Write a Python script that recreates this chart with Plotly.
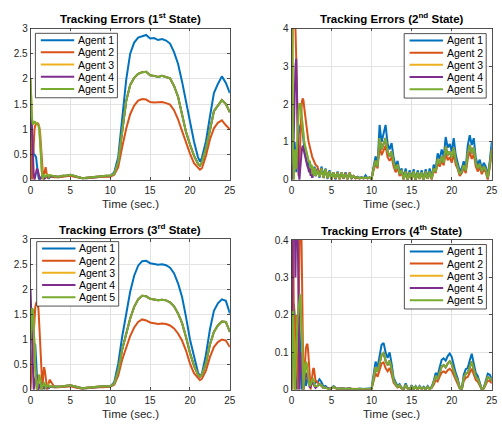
import plotly.graph_objects as go

W, H = 502, 426
FONT = "Liberation Sans, Arial, Helvetica, sans-serif"
COLORS = ["#0072BD", "#D95319", "#EDB120", "#7E2F8E", "#77AC30"]
AGENTS = ["Agent 1", "Agent 2", "Agent 3", "Agent 4", "Agent 5"]
TITLES = ["Tracking Errors (1<sup>st</sup> State)", "Tracking Errors (2<sup>nd</sup> State)",
          "Tracking Errors (3<sup>rd</sup> State)", "Tracking Errors (4<sup>th</sup> State)"]
X_LABEL = "Time (sec.)"
X_TICKS = [0, 5, 10, 15, 20, 25]
Y_TICKS_A = [0, 0.5, 1, 1.5, 2, 2.5, 3]
Y_TICKS_B = [0, 1, 2, 3, 4]
Y_TICKS_C = [0, 0.1, 0.2, 0.3, 0.4]

# ---------------- time grids ----------------
T_EARLY_A = [0.0, 0.1, 0.2, 0.3, 0.4, 0.5, 0.6, 0.7, 0.8, 0.9,
             1.0, 1.1, 1.2, 1.3, 1.4, 1.5, 1.6, 1.7, 1.8, 1.9,
             2.0, 2.1, 2.2, 2.3, 2.4, 2.5]
T_LATE_A = [3.0, 3.5, 4.0, 4.5, 5.0, 5.5, 6.0, 6.5, 7.0, 7.5,
            8.0, 8.5, 9.0, 9.5, 10.0, 10.5, 11.0, 11.5, 12.0, 12.5,
            13.0, 13.5, 14.0, 14.5, 15.0, 15.5, 16.0, 16.5, 17.0, 17.5,
            18.0, 18.5, 19.0, 19.5, 20.0, 20.5, 21.0, 21.25, 21.5, 22.0, 22.5, 23.0, 23.5, 24.0, 24.5, 25.0]
T_EARLY_B = [0.0, 0.1, 0.2, 0.3, 0.4, 0.5, 0.6, 0.7, 0.8, 0.9,
             1.0, 1.1, 1.2, 1.3, 1.4, 1.5, 1.6, 1.7, 1.8, 1.9,
             2.0, 2.1, 2.2, 2.3, 2.4, 2.5, 2.6, 2.7, 2.8, 2.9, 3.0]
T_LATE_B = [3.25, 3.5, 3.75, 4.0, 4.25, 4.5, 4.75, 5.0,
            5.25, 5.5, 5.75, 6.0, 6.25, 6.5, 6.75, 7.0,
            7.25, 7.5, 7.75, 8.0, 8.25, 8.5, 8.75, 9.0,
            9.25, 9.5, 9.75, 10.0, 10.25, 10.5, 10.75, 11.0,
            11.25, 11.5, 11.75, 12.0, 12.25, 12.5, 12.75, 13.0,
            13.25, 13.5, 13.75, 14.0, 14.25, 14.5, 14.75, 15.0,
            15.25, 15.5, 15.75, 16.0, 16.25, 16.5, 16.75, 17.0,
            17.25, 17.5, 17.75, 18.0, 18.25, 18.5, 18.75, 19.0,
            19.25, 19.5, 19.75, 20.0, 20.25, 20.5, 20.75, 21.0,
            21.25, 21.5, 21.75, 22.0, 22.25, 22.5, 22.75, 23.0,
            23.25, 23.5, 23.75, 24.0, 24.25, 24.5, 24.75, 25.0]

# ---------------- 1st state ----------------
P1_A1_EARLY = [0.8, 1.2, 0.9, 0.55, 0.5, 0.5, 0.48, 0.45, 0.3, 0.15,
               0.05, 0.0, 0.02, 0.04, 0.06, 0.05, 0.03, 0.02, 0.03, 0.05,
               0.07, 0.06, 0.04, 0.03, 0.05, 0.06]
P1_A2_EARLY = [1.0, 0.4, 0.0, 0.35, 0.75, 1.0, 1.08, 1.1, 1.12, 1.12,
               1.1, 1.05, 0.95, 0.7, 0.4, 0.15, 0.0, 0.1, 0.22, 0.25,
               0.15, 0.03, 0.02, 0.07, 0.1, 0.07]
P1_A3_EARLY = [2.0, 1.5, 1.18, 1.1, 1.12, 1.14, 1.14, 1.12, 1.12, 1.1,
               1.08, 1.0, 0.8, 0.5, 0.2, 0.02, 0.05, 0.1, 0.08, 0.05,
               0.08, 0.1, 0.09, 0.06, 0.08, 0.09]
P1_A4_EARLY = [1.0, 1.25, 1.0, 0.5, 0.1, 0.0, 0.1, 0.2, 0.22, 0.2,
               0.12, 0.05, 0.0, 0.03, 0.06, 0.08, 0.06, 0.04, 0.03, 0.05,
               0.07, 0.08, 0.06, 0.05, 0.06, 0.07]
P1_A5_EARLY = [2.0, 1.55, 1.2, 1.1, 1.12, 1.15, 1.14, 1.12, 1.12, 1.1,
               1.08, 1.0, 0.8, 0.5, 0.2, 0.02, 0.05, 0.1, 0.08, 0.05,
               0.08, 0.1, 0.09, 0.06, 0.08, 0.09]
P1_A1_LATE = [0.06, 0.05, 0.07, 0.08, 0.09, 0.07, 0.05, 0.03, 0.03, 0.04,
              0.05, 0.06, 0.07, 0.07, 0.07, 0.15, 0.45, 1.25, 1.98, 2.5,
              2.72, 2.82, 2.84, 2.87, 2.8, 2.81, 2.77, 2.79, 2.76, 2.7,
              2.53, 2.3, 1.95, 1.55, 1.15, 0.76, 0.45, 0.36, 0.44, 0.76, 1.25, 1.72, 1.9, 2.05, 1.92, 1.72]
P1_A2_LATE = [0.05, 0.05, 0.06, 0.07, 0.08, 0.06, 0.04, 0.03, 0.03, 0.04,
              0.05, 0.05, 0.06, 0.06, 0.06, 0.1, 0.25, 0.65, 1.01, 1.3,
              1.47, 1.57, 1.6, 1.59, 1.54, 1.53, 1.53, 1.54, 1.52, 1.49,
              1.38, 1.2, 0.97, 0.73, 0.52, 0.33, 0.23, 0.2, 0.23, 0.47, 0.8, 1.02, 1.13, 1.18, 1.08, 1.0]
P1_A345_LATE = [0.07, 0.06, 0.08, 0.08, 0.1, 0.08, 0.05, 0.03, 0.04, 0.05,
                0.06, 0.07, 0.08, 0.08, 0.08, 0.12, 0.35, 0.95, 1.56, 1.88,
                2.02, 2.1, 2.13, 2.14, 2.07, 2.06, 2.04, 2.06, 2.04, 2.01,
                1.86, 1.65, 1.3, 0.95, 0.7, 0.48, 0.32, 0.28, 0.35, 0.62, 0.98, 1.36, 1.47, 1.58, 1.5, 1.34]

# ---------------- 2nd state ----------------
P2_A1_EARLY = [2.5, 1.0, 0.2, 0.5, 1.0, 0.6, 0.2, 0.6, 1.0, 1.2,
               1.35, 1.45, 1.5, 1.45, 1.2, 1.0, 0.85, 0.7, 0.6, 0.5,
               0.4, 0.45, 0.25, 0.4, 0.15, 0.3, 0.05, 0.3, 0.1, 0.35, 0.1]
P2_A2_EARLY = [1.5, 3.5, 4.5, 4.3, 4.1, 4.0, 3.2, 2.0, 0.8, 0.1,
               0.5, 1.2, 1.8, 2.05, 2.15, 2.1, 1.9, 1.7, 1.5, 1.35,
               1.2, 1.05, 0.95, 0.85, 0.8, 0.7, 0.6, 0.55, 0.5, 0.45, 0.4]
P2_A3_EARLY = [4.5, 4.0, 0.8, 0.0, 0.5, 0.8, 0.3, 0.9, 1.5, 1.85,
               2.0, 2.0, 1.85, 1.6, 1.35, 1.15, 1.0, 0.9, 0.8, 0.7,
               0.6, 0.55, 0.45, 0.5, 0.3, 0.4, 0.15, 0.35, 0.1, 0.3, 0.1]
P2_A4_EARLY = [0.4, 0.0, 0.4, 1.5, 2.5, 3.0, 3.2, 2.5, 1.2, 0.2,
               0.0, 0.3, 0.6, 0.8, 0.9, 0.8, 0.7, 0.6, 0.5, 0.4,
               0.35, 0.3, 0.2, 0.3, 0.1, 0.25, 0.05, 0.2, 0.1, 0.25, 0.1]
P2_A5_EARLY = [4.5, 4.2, 0.8, 0.0, 0.6, 0.8, 0.3, 0.9, 1.5, 1.85,
               2.0, 2.0, 1.85, 1.6, 1.35, 1.15, 1.0, 0.9, 0.8, 0.7,
               0.6, 0.55, 0.45, 0.5, 0.3, 0.4, 0.15, 0.35, 0.1, 0.3, 0.1]
P2_A1_LATE = [0.3, 0.05, 0.35, 0.1, 0.3, 0.02, 0.25, 0.05,
              0.2, 0.0, 0.22, 0.05, 0.18, 0.02, 0.2, 0.05,
              0.15, 0.03, 0.1, 0.05, 0.08, 0.05, 0.07, 0.04,
              0.12, 0.04, 0.07, 0.02, 0.35, 0.62, 0.4, 1.45,
              1.0, 1.2, 1.45, 0.95, 0.8, 0.97, 0.58, 0.35,
              0.5, 0.2, 0.3, 0.05, 0.3, 0.02, 0.25, 0.05,
              0.28, 0.0, 0.25, 0.05, 0.25, 0.02, 0.28, 0.05,
              0.3, 0.05, 0.4, 0.3, 0.7, 0.55, 0.8, 0.6,
              1.13, 0.85, 0.95, 0.75, 1.1, 0.66, 0.45, 0.23,
              0.3, 0.49, 0.32, 0.9, 1.18, 0.92, 1.1, 0.58,
              0.4, 0.53, 0.3, 0.45, 0.35, 0.1, 0.5, 1.0]
P2_A2_LATE = [0.35, 0.15, 0.3, 0.05, 0.25, 0.08, 0.2, 0.0,
              0.18, 0.03, 0.2, 0.0, 0.15, 0.03, 0.18, 0.0,
              0.2, 0.03, 0.1, 0.03, 0.06, 0.03, 0.05, 0.03,
              0.05, 0.03, 0.05, 0.02, 0.25, 0.42, 0.3, 0.9,
              0.65, 0.8, 0.9, 0.6, 0.5, 0.6, 0.35, 0.2,
              0.32, 0.1, 0.2, 0.0, 0.18, 0.0, 0.16, 0.0,
              0.18, 0.0, 0.16, 0.02, 0.16, 0.0, 0.18, 0.02,
              0.18, 0.0, 0.25, 0.18, 0.45, 0.35, 0.5, 0.38,
              0.7, 0.52, 0.6, 0.45, 0.68, 0.4, 0.28, 0.1,
              0.17, 0.3, 0.18, 0.55, 0.75, 0.55, 0.68, 0.35,
              0.22, 0.33, 0.15, 0.27, 0.2, 0.0, 0.3, 0.65]
P2_A345_LATE = [0.25, 0.08, 0.3, 0.05, 0.28, 0.05, 0.22, 0.02,
                0.2, 0.05, 0.18, 0.02, 0.2, 0.05, 0.15, 0.02,
                0.18, 0.05, 0.1, 0.05, 0.07, 0.04, 0.06, 0.04,
                0.06, 0.04, 0.06, 0.03, 0.3, 0.5, 0.35, 1.1,
                0.8, 0.95, 1.1, 0.75, 0.62, 0.75, 0.45, 0.28,
                0.4, 0.15, 0.25, 0.02, 0.22, 0.0, 0.2, 0.02,
                0.22, 0.0, 0.2, 0.03, 0.2, 0.0, 0.22, 0.03,
                0.22, 0.03, 0.3, 0.22, 0.55, 0.42, 0.62, 0.45,
                0.88, 0.65, 0.75, 0.58, 0.85, 0.5, 0.35, 0.15,
                0.22, 0.38, 0.24, 0.7, 0.92, 0.7, 0.85, 0.45,
                0.3, 0.42, 0.22, 0.35, 0.27, 0.05, 0.4, 0.8]

# ---------------- 3rd state ----------------
P3_A1_EARLY = [0.2, 0.5, 0.7, 0.85, 0.9, 0.92, 0.9, 0.5, 0.1, 0.0,
               0.05, 0.1, 0.08, 0.03, 0.0, 0.03, 0.05, 0.04, 0.02, 0.03,
               0.05, 0.06, 0.04, 0.03, 0.05, 0.06]
P3_A2_EARLY = [0.0, 0.3, 0.6, 0.9, 1.2, 1.45, 1.65, 1.72, 1.75, 1.72,
               1.6, 1.3, 0.9, 0.45, 0.1, 0.0, 0.3, 0.45, 0.38, 0.2,
               0.05, 0.0, 0.08, 0.15, 0.2, 0.18]
P3_A3_EARLY = [1.0, 1.38, 1.6, 1.58, 1.3, 0.9, 0.4, 0.05, 0.0, 0.1,
               0.25, 0.3, 0.22, 0.08, 0.0, 0.05, 0.12, 0.15, 0.1, 0.04,
               0.05, 0.09, 0.1, 0.07, 0.06, 0.07]
P3_A4_EARLY = [2.0, 1.4, 0.7, 0.2, 0.0, 0.1, 0.25, 0.3, 0.25, 0.1,
               0.0, 0.05, 0.12, 0.15, 0.1, 0.04, 0.02, 0.05, 0.08, 0.06,
               0.04, 0.05, 0.07, 0.06, 0.05, 0.06]
P3_A5_EARLY = [1.0, 1.4, 1.62, 1.6, 1.3, 0.9, 0.4, 0.05, 0.0, 0.1,
               0.25, 0.3, 0.22, 0.08, 0.0, 0.05, 0.12, 0.15, 0.1, 0.04,
               0.05, 0.09, 0.1, 0.07, 0.06, 0.07]
P3_A1_LATE = [0.05, 0.05, 0.06, 0.07, 0.08, 0.06, 0.04, 0.02, 0.03, 0.04,
              0.05, 0.05, 0.06, 0.06, 0.06, 0.15, 0.52, 1.06, 1.5, 1.95,
              2.27, 2.47, 2.56, 2.57, 2.52, 2.51, 2.49, 2.5, 2.48, 2.43,
              2.32, 2.12, 1.85, 1.45, 1.0, 0.67, 0.35, 0.27, 0.32, 0.7, 1.2, 1.57, 1.72, 1.8, 1.77, 1.52]
P3_A2_LATE = [0.05, 0.05, 0.06, 0.06, 0.07, 0.05, 0.04, 0.02, 0.03, 0.04,
              0.05, 0.05, 0.05, 0.06, 0.06, 0.1, 0.28, 0.6, 0.85, 1.07,
              1.24, 1.35, 1.4, 1.38, 1.34, 1.32, 1.31, 1.32, 1.31, 1.28,
              1.22, 1.12, 0.98, 0.78, 0.52, 0.33, 0.22, 0.19, 0.22, 0.38, 0.65, 0.85, 0.95, 1.0, 0.98, 0.85]
P3_A345_LATE = [0.06, 0.06, 0.07, 0.08, 0.09, 0.07, 0.05, 0.03, 0.04, 0.05,
                0.06, 0.06, 0.07, 0.07, 0.07, 0.12, 0.38, 0.8, 1.1, 1.42,
                1.65, 1.8, 1.87, 1.86, 1.81, 1.79, 1.78, 1.79, 1.78, 1.74,
                1.66, 1.52, 1.33, 1.05, 0.73, 0.48, 0.3, 0.26, 0.3, 0.52, 0.9, 1.15, 1.28, 1.36, 1.35, 1.15]

# ---------------- 4th state ----------------
P4_A1_EARLY = [0.0, 0.15, 0.22, 0.23, 0.2, 0.1, 0.0, 0.05, 0.15, 0.2,
               0.18, 0.12, 0.06, 0.0, 0.03, 0.06, 0.05, 0.03, 0.01, 0.02,
               0.03, 0.04, 0.035, 0.02, 0.01, 0.015, 0.02, 0.025, 0.02, 0.015, 0.02]
P4_A2_EARLY = [0.3, 0.5, 0.45, 0.2, 0.0, 0.1, 0.2, 0.15, 0.0, 0.2,
               0.45, 0.55, 0.5, 0.3, 0.1, 0.0, 0.04, 0.08, 0.11, 0.12,
               0.123, 0.1, 0.06, 0.02, 0.0, 0.02, 0.045, 0.055, 0.058, 0.045, 0.025]
P4_A3_EARLY = [0.0, 0.19, 0.2, 0.1, 0.0, 0.05, 0.12, 0.18, 0.2, 0.22,
               0.245, 0.25, 0.2, 0.12, 0.04, 0.0, 0.03, 0.06, 0.075, 0.07,
               0.05, 0.03, 0.015, 0.01, 0.015, 0.025, 0.03, 0.03, 0.02, 0.01, 0.01]
P4_A4_EARLY = [0.0, 0.3, 0.5, 0.6, 0.5, 0.3, 0.5, 0.6, 0.4, 0.1,
               0.0, 0.05, 0.1, 0.08, 0.03, 0.0, 0.02, 0.04, 0.045, 0.04,
               0.03, 0.02, 0.01, 0.005, 0.01, 0.02, 0.02, 0.015, 0.01, 0.005, 0.005]
P4_A5_EARLY = [0.0, 0.2, 0.21, 0.1, 0.0, 0.05, 0.12, 0.18, 0.2, 0.22,
               0.25, 0.255, 0.2, 0.12, 0.04, 0.0, 0.03, 0.06, 0.075, 0.07,
               0.05, 0.03, 0.015, 0.01, 0.015, 0.025, 0.03, 0.03, 0.02, 0.01, 0.01]
P4_A1_LATE = [0.02, 0.028, 0.02, 0.008, 0.01, 0.005, 0.003, 0.005,
              0.01, 0.006, 0.003, 0.004, 0.005, 0.004, 0.003, 0.004,
              0.004, 0.003, 0.002, 0.003, 0.002, 0.003, 0.002, 0.002,
              0.003, 0.003, 0.003, 0.004, 0.04, 0.075, 0.06, 0.09,
              0.12, 0.125, 0.1, 0.085, 0.1, 0.07, 0.032, 0.02,
              0.01, 0.015, 0.005, 0.002, 0.017, 0.005, 0.0, 0.012,
              0.002, 0.01, 0.002, 0.01, 0.003, 0.008, 0.002, 0.01,
              0.003, 0.008, 0.023, 0.045, 0.038, 0.06, 0.08, 0.084,
              0.078, 0.09, 0.097, 0.088, 0.065, 0.045, 0.03, 0.006,
              0.0, 0.04, 0.055, 0.058, 0.078, 0.096, 0.07, 0.045,
              0.037, 0.02, 0.002, 0.005, 0.028, 0.043, 0.04, 0.03]
P4_A2_LATE = [0.02, 0.015, 0.01, 0.005, 0.005, 0.003, 0.002, 0.004,
              0.007, 0.004, 0.002, 0.003, 0.003, 0.003, 0.002, 0.002,
              0.002, 0.002, 0.001, 0.002, 0.001, 0.002, 0.001, 0.001,
              0.002, 0.002, 0.002, 0.002, 0.023, 0.044, 0.035, 0.052,
              0.07, 0.073, 0.058, 0.049, 0.058, 0.041, 0.019, 0.012,
              0.006, 0.009, 0.003, 0.001, 0.01, 0.003, 0.0, 0.007,
              0.001, 0.006, 0.001, 0.006, 0.002, 0.005, 0.001, 0.006,
              0.002, 0.005, 0.013, 0.026, 0.022, 0.035, 0.046, 0.049,
              0.045, 0.052, 0.056, 0.051, 0.038, 0.026, 0.017, 0.003,
              0.0, 0.023, 0.032, 0.034, 0.045, 0.056, 0.041, 0.026,
              0.021, 0.012, 0.001, 0.003, 0.016, 0.025, 0.023, 0.017]
P4_A345_LATE = [0.01, 0.015, 0.012, 0.005, 0.006, 0.003, 0.002, 0.004,
                0.008, 0.005, 0.002, 0.003, 0.004, 0.003, 0.002, 0.003,
                0.003, 0.002, 0.002, 0.002, 0.002, 0.002, 0.002, 0.002,
                0.002, 0.002, 0.002, 0.003, 0.03, 0.06, 0.048, 0.07,
                0.093, 0.098, 0.078, 0.066, 0.078, 0.055, 0.025, 0.015,
                0.008, 0.012, 0.004, 0.001, 0.013, 0.004, 0.0, 0.01,
                0.001, 0.008, 0.001, 0.008, 0.002, 0.006, 0.001, 0.008,
                0.002, 0.006, 0.018, 0.035, 0.03, 0.047, 0.062, 0.066,
                0.06, 0.07, 0.076, 0.068, 0.05, 0.035, 0.023, 0.005,
                0.0, 0.031, 0.043, 0.045, 0.06, 0.075, 0.055, 0.035,
                0.029, 0.015, 0.001, 0.004, 0.022, 0.034, 0.031, 0.023]

PANELS = [
    dict(t_early=T_EARLY_A, t_late=T_LATE_A, yr=[0, 3], yt=Y_TICKS_A,
         early=[P1_A1_EARLY, P1_A2_EARLY, P1_A3_EARLY, P1_A4_EARLY, P1_A5_EARLY],
         late=[P1_A1_LATE, P1_A2_LATE, P1_A345_LATE, P1_A345_LATE, P1_A345_LATE],
         box=(28, 24, 231, 179), leg=(33, 29)),
    dict(t_early=T_EARLY_B, t_late=T_LATE_B, yr=[0, 4], yt=Y_TICKS_B,
         early=[P2_A1_EARLY, P2_A2_EARLY, P2_A3_EARLY, P2_A4_EARLY, P2_A5_EARLY],
         late=[P2_A1_LATE, P2_A2_LATE, P2_A345_LATE, P2_A345_LATE, P2_A345_LATE],
         box=(293.7, 24, 497.7, 179), leg=(408.5, 29.3)),
    dict(t_early=T_EARLY_A, t_late=T_LATE_A, yr=[0, 3], yt=Y_TICKS_A,
         early=[P3_A1_EARLY, P3_A2_EARLY, P3_A3_EARLY, P3_A4_EARLY, P3_A5_EARLY],
         late=[P3_A1_LATE, P3_A2_LATE, P3_A345_LATE, P3_A345_LATE, P3_A345_LATE],
         box=(28, 239.7, 231, 394), leg=(34.3, 242.3)),
    dict(t_early=T_EARLY_B, t_late=T_LATE_B, yr=[0, 0.4], yt=Y_TICKS_C,
         early=[P4_A1_EARLY, P4_A2_EARLY, P4_A3_EARLY, P4_A4_EARLY, P4_A5_EARLY],
         late=[P4_A1_LATE, P4_A2_LATE, P4_A345_LATE, P4_A345_LATE, P4_A345_LATE],
         box=(293.7, 240.7, 497.7, 394), leg=(408.7, 245.3)),
]


def px(x):
    return x / W


def py(y):
    return 1 - y / H


fig = go.Figure()
shapes = []
annotations = []
layout = {}
AX = "#262626"
for i, p in enumerate(PANELS):
    n = "" if i == 0 else str(i + 1)
    xa, ya = "x" + n, "y" + n
    t = p["t_early"] + p["t_late"]
    for k in range(5):
        fig.add_trace(go.Scatter(
            x=t, y=p["early"][k] + p["late"][k], mode="lines", name=AGENTS[k],
            line=dict(color=COLORS[k], width=2), xaxis=xa, yaxis=ya, showlegend=False))
    l, tp, r, b = p["box"]
    common = dict(showline=True, mirror="allticks", linecolor=AX, linewidth=0.8,
                  ticks="inside", ticklen=3, tickcolor=AX, tickwidth=0.8,
                  showgrid=True, gridcolor="#e3e3e3", gridwidth=1, zeroline=False,
                  tickfont=dict(family=FONT, size=10, color=AX), fixedrange=True)
    layout["xaxis" + n] = dict(common, domain=[px(l), px(r)], range=[0, 25],
                               tickvals=X_TICKS, ticktext=[str(v) for v in X_TICKS],
                               anchor=ya, ticklabelstandoff=1)
    layout["yaxis" + n] = dict(common, domain=[py(b), py(tp)], range=p["yr"],
                               tickvals=p["yt"], ticktext=[f"{v:g}" for v in p["yt"]],
                               anchor=xa)
    cx = (l + r) / 2
    annotations.append(dict(text="<b>" + TITLES[i] + "</b>", x=px(cx), y=py(tp - 10.5),
                            xref="paper", yref="paper", showarrow=False,
                            xanchor="center", yanchor="middle",
                            font=dict(family=FONT, size=11.5, color="black")))
    annotations.append(dict(text=X_LABEL, x=px(cx), y=py(b + 24.5), xref="paper", yref="paper",
                            showarrow=False, xanchor="center", yanchor="middle",
                            font=dict(family=FONT, size=11.5, color=AX)))
    # legend box
    lx, ly = p["leg"]
    shapes.append(dict(type="rect", xref="paper", yref="paper",
                       x0=px(lx), x1=px(lx + 83.5), y0=py(ly), y1=py(ly + 66),
                       line=dict(color=AX, width=0.8), fillcolor="white", layer="above"))
    for k in range(5):
        yy = ly + 7 + 12.5 * k
        shapes.append(dict(type="line", xref="paper", yref="paper",
                           x0=px(lx + 5.5), x1=px(lx + 39.5), y0=py(yy), y1=py(yy),
                           line=dict(color=COLORS[k], width=2), layer="above"))
        annotations.append(dict(text=AGENTS[k], x=px(lx + 41.5), y=py(yy), xref="paper", yref="paper",
                                showarrow=False, xanchor="left", yanchor="middle",
                                font=dict(family=FONT, size=10.5, color="black")))

fig.update_layout(width=W, height=H, margin=dict(l=0, r=0, t=0, b=0),
                  paper_bgcolor="white", plot_bgcolor="white", showlegend=False,
                  hovermode=False,
                  shapes=shapes, annotations=annotations, **layout)
fig.write_html("out.html", config={"displayModeBar": False, "staticPlot": True},
               post_script="document.body.style.margin='0px';")
